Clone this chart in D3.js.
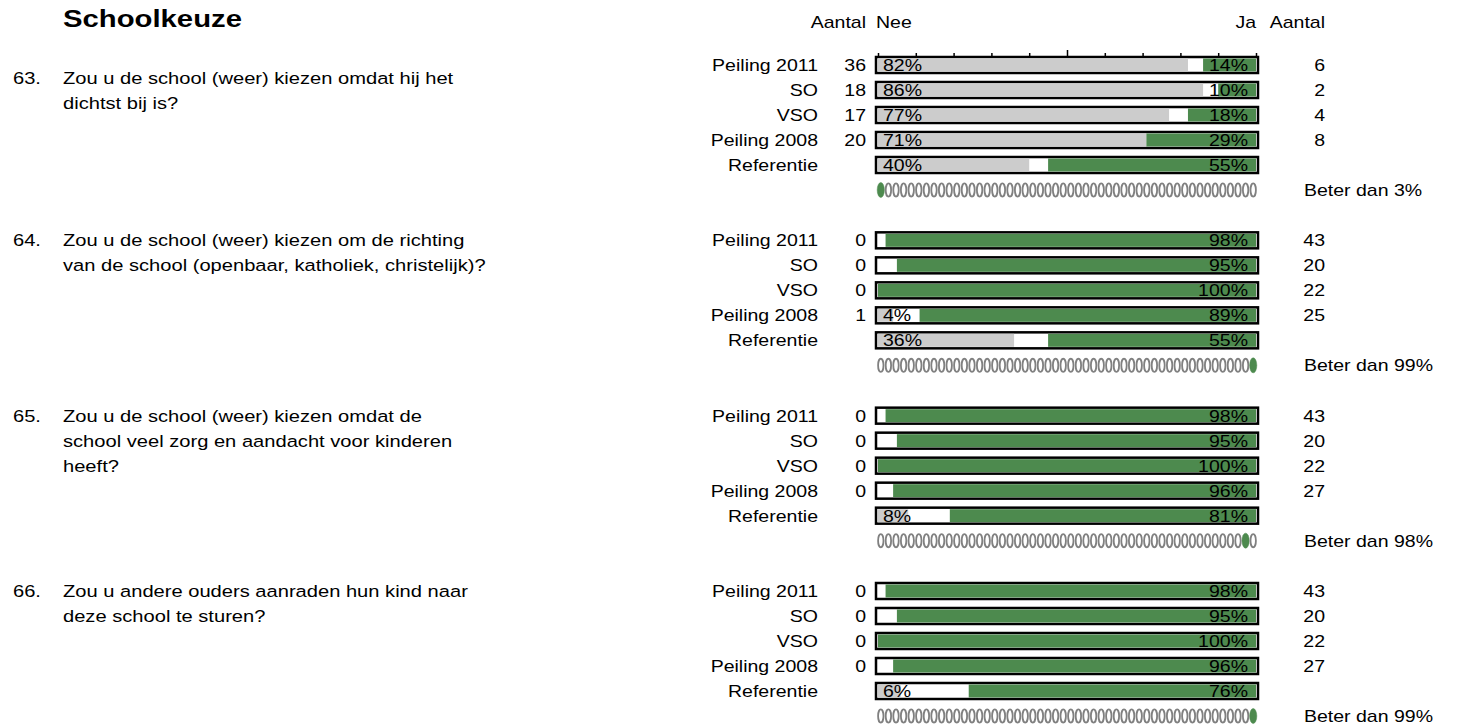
<!DOCTYPE html>
<html>
<head>
<meta charset="utf-8">
<script src="https://cdn.jsdelivr.net/npm/d3@7"></script>
<style>
  body { margin: 0; background: #fff; }
  svg text { font-family: Arial, "Liberation Sans", sans-serif; fill: #000; }
</style>
</head>
<body>
<div id="chart"></div>
<script>
// data
const title = "Schoolkeuze";
const questionNumbers = ["63.", "64.", "65.", "66."];
const questionLines = [
  ["Zou u de school (weer) kiezen omdat hij het", "dichtst bij is?"],
  ["Zou u de school (weer) kiezen om de richting", "van de school (openbaar, katholiek, christelijk)?"],
  ["Zou u de school (weer) kiezen omdat de", "school veel zorg en aandacht voor kinderen", "heeft?"],
  ["Zou u andere ouders aanraden hun kind naar", "deze school te sturen?"]
];
const rowLabels = ["Peiling 2011", "SO", "VSO", "Peiling 2008", "Referentie"];
const neeCount = [[36, 18, 17, 20, null], [0, 0, 0, 1, null], [0, 0, 0, 0, null], [0, 0, 0, 0, null]];
const jaCount = [[6, 2, 4, 8, null], [43, 20, 22, 25, null], [43, 20, 22, 27, null], [43, 20, 22, 27, null]];
const neePct = [[82, 86, 77, 71, 40], [0, 0, 0, 4, 36], [0, 0, 0, 0, 8], [0, 0, 0, 0, 6]];
const jaPct = [[14, 10, 18, 29, 55], [98, 95, 100, 89, 55], [98, 95, 100, 96, 81], [98, 95, 100, 96, 76]];
const beterDan = [3, 99, 98, 99];
const markerIndex = [0, 49, 48, 49];
const ovalCount = 50;
const tickValues = [0, 10, 20, 30, 40, 50, 60, 70, 80, 90, 100];

const GREEN = "#4d8a4e";
const GRAY = "#cccccc";
const SX = 1.22; // the source text is drawn a bit wide

const width = 1468, height = 726;

const svg = d3.select("#chart").append("svg")
    .attr("width", width)
    .attr("height", height);

function txt(g, x, y, str, anchor, size, weight) {
  return g.append("text")
      .attr("transform", `translate(${x},${y}) scale(${SX},1)`)
      .attr("text-anchor", anchor || "start")
      .style("font-size", (size || 16) + "px")
      .style("font-weight", weight || "normal")
      .text(str);
}

const x = d3.scaleLinear().domain([0, 100]).range([878, 1256]);
const groupY = d3.scaleLinear().domain([0, 3]).range([65, 591]);
const rowY = d3.scaleLinear().domain([0, 1]).range([0, 25]);
const ovalX = d3.scaleBand().domain(d3.range(ovalCount)).range([877, 1257]);

// headers
txt(svg, 63, 27, title, "start", 24, "bold");
txt(svg, 866, 28, "Aantal", "end");
txt(svg, 876, 28, "Nee", "start");
txt(svg, 1256, 28, "Ja", "end");
txt(svg, 1325, 28, "Aantal", "end");

questionNumbers.forEach((num, gi) => {
  const g = svg.append("g");
  const top = groupY(gi);

  // question text
  const qBase = gi === 0 ? top + 19 : top + 6;
  txt(g, 13, qBase, num, "start", 16.5);
  questionLines[gi].forEach((line, li) => {
    txt(g, 63, qBase + li * 25, line, "start", 16.5);
  });

  rowLabels.forEach((lab, ri) => {
    const cy = top + rowY(ri);
    txt(g, 818, cy + 6, lab, "end");
    if (neeCount[gi][ri] !== null) txt(g, 866, cy + 6, neeCount[gi][ri], "end");
    if (jaCount[gi][ri] !== null) txt(g, 1325, cy + 6, jaCount[gi][ri], "end");

    g.append("rect")
        .attr("x", x(0) - 2).attr("y", cy - 8)
        .attr("width", x(100) - x(0) + 4).attr("height", 16)
        .attr("fill", "#fff").attr("stroke", "#000").attr("stroke-width", 2.5);

    const nee = neePct[gi][ri], ja = jaPct[gi][ri];
    if (nee > 0) {
      g.append("rect")
          .attr("x", x(0)).attr("y", cy - 6.5)
          .attr("width", x(nee) - x(0)).attr("height", 13)
          .attr("fill", GRAY);
    }
    if (ja > 0) {
      g.append("rect")
          .attr("x", x(100 - ja)).attr("y", cy - 6.5)
          .attr("width", x(100) - x(100 - ja)).attr("height", 13)
          .attr("fill", GREEN);
    }
    if (nee > 0) txt(g, x(0) + 5, cy + 6, nee + "%", "start");
    if (ja > 0) txt(g, x(100) - 8, cy + 6, ja + "%", "end");
  });

  // percentile ovals
  const oy = top + rowY(4) + 25;
  g.selectAll("ellipse.o").data(d3.range(ovalCount))
      .join("ellipse")
      .attr("class", "o")
      .attr("cx", d => ovalX(d) + ovalX.bandwidth() / 2)
      .attr("cy", oy)
      .attr("rx", d => d === markerIndex[gi] ? 3.6 : 2.7)
      .attr("ry", d => d === markerIndex[gi] ? 7.5 : 6.6)
      .attr("fill", d => d === markerIndex[gi] ? GREEN : "none")
      .attr("stroke", d => d === markerIndex[gi] ? GREEN : "#808080")
      .attr("stroke-width", d => d === markerIndex[gi] ? 0.5 : 1.8);

  txt(g, 1304, oy + 6, "Beter dan " + beterDan[gi] + "%", "start");
});

// scale ticks above the first bar
const axis = svg.append("g")
    .attr("transform", `translate(0,${groupY(0) - 8})`)
    .call(d3.axisTop(x).tickValues(tickValues).tickSize(4).tickSizeOuter(0).tickFormat(""));
axis.select(".domain").remove();
axis.selectAll(".tick line")
    .attr("stroke", "#000").attr("stroke-width", 1.5)
    .attr("y2", d => d === 50 ? -7 : -4);
</script>
</body>
</html>
